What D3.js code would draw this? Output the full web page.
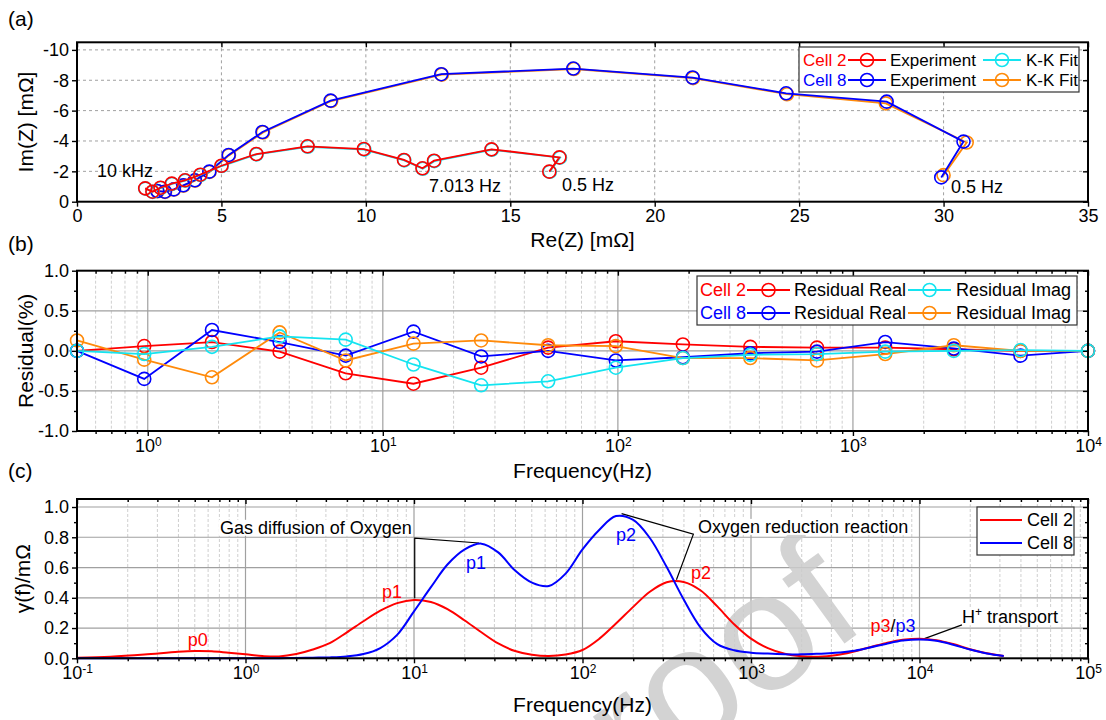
<!DOCTYPE html>
<html>
<head>
<meta charset="utf-8">
<script src="https://cdn.jsdelivr.net/npm/d3@7"></script>
<style>
  body { margin: 0; background: #fff; }
  svg { font-family: Arial, "Liberation Sans", Helvetica, sans-serif; }
</style>
</head>
<body>
<svg id="chart"></svg>
<script>
const width = 1106
const height = 720
const FONT = 'Arial, "Liberation Sans", Helvetica, sans-serif'
const red = '#ff0000'
const blue = '#0000ff'
const cyan = '#14e4f0'
const orange = '#ff8a0a'

// ---- (a) Nyquist plot, points from 10 kHz down to 0.5 Hz
const cell2ReExp = [2.36, 2.61, 2.89, 3.28, 3.74, 4.27, 5.0, 6.21, 7.98, 9.93, 11.32, 11.96, 12.36, 14.35, 16.7, 16.35]
const cell2ImExp = [-0.88, -0.66, -0.92, -1.19, -1.41, -1.78, -2.37, -3.14, -3.65, -3.47, -2.75, -2.2, -2.7, -3.45, -2.92, -1.98]
const cell2ReFit = [2.37, 2.62, 2.9, 3.29, 3.75, 4.28, 5.01, 6.22, 7.99, 9.95, 11.33, 11.97, 12.37, 14.36, 16.72, 16.37]
const cell2ImFit = [-0.86, -0.65, -0.9, -1.17, -1.39, -1.76, -2.35, -3.12, -3.62, -3.43, -2.72, -2.17, -2.67, -3.42, -2.9, -1.97]
const cell8ReExp = [2.78, 3.04, 3.35, 3.68, 4.08, 4.58, 5.25, 6.42, 8.78, 12.61, 17.18, 21.31, 24.55, 28.03, 30.69, 29.92]
const cell8ImExp = [-0.7, -0.66, -0.81, -1.08, -1.41, -1.98, -3.08, -4.59, -6.66, -8.4, -8.77, -8.18, -7.14, -6.59, -3.96, -1.6]
const cell8ReFit = [2.79, 3.05, 3.36, 3.69, 4.09, 4.59, 5.26, 6.44, 8.8, 12.63, 17.2, 21.33, 24.58, 28.0, 30.8, 30.0]
const cell8ImFit = [-0.69, -0.65, -0.8, -1.06, -1.39, -1.96, -3.05, -4.56, -6.63, -8.37, -8.74, -8.14, -7.08, -6.48, -3.9, -1.75]
const aXTicks = [0, 5, 10, 15, 20, 25, 30, 35]
const aYTicks = [0, -2, -4, -6, -8, -10]

// ---- (b) K-K residuals
const resFreq = [0.5, 0.966, 1.876, 3.64, 6.95, 13.5, 26.2, 50.5, 98, 189, 366, 703, 1372, 2685, 5163, 10000]
const res2Real = [0.0, 0.06, 0.11, -0.01, -0.28, -0.41, -0.21, 0.04, 0.12, 0.08, 0.05, 0.04, 0.04, 0.02, 0.0, 0.0]
const res2Imag = [0.0, -0.04, 0.05, 0.18, 0.14, -0.17, -0.43, -0.38, -0.21, -0.09, -0.05, -0.04, -0.01, 0.0, 0.01, 0.0]
const res8Real = [0.0, -0.35, 0.26, 0.11, -0.06, 0.24, -0.07, 0.0, -0.12, -0.08, -0.03, -0.01, 0.11, 0.03, -0.06, 0.0]
const res8Imag = [0.13, -0.11, -0.33, 0.23, -0.12, 0.09, 0.13, 0.07, 0.06, -0.09, -0.09, -0.12, -0.04, 0.07, 0.0, 0.0]
const bYTicks = [-1, -0.5, 0, 0.5, 1]
const bDecades = [1, 10, 100, 1000, 10000]

// ---- (c) DRT
const drtFreq = [0.1, 0.158, 0.251, 0.398, 0.501, 0.631, 0.794, 1, 1.26, 1.58, 2.0, 2.51, 3.16, 3.98, 5.01, 6.31, 7.94, 10,
  12.6, 15.8, 20.0, 25.1, 31.6, 39.8, 50.1, 63.1, 79.4, 100, 126, 158, 200, 251, 316, 398, 501, 631, 794, 1000,
  1259, 1585, 1995, 2512, 3162, 3981, 5012, 6310, 7943, 10000, 12589, 15849, 19953, 25119, 31623]
const drtCell2 = [0.004, 0.011, 0.025, 0.043, 0.048, 0.046, 0.036, 0.026, 0.015, 0.012, 0.028, 0.058, 0.1, 0.17, 0.245, 0.315, 0.365, 0.386,
  0.372, 0.325, 0.25, 0.172, 0.098, 0.048, 0.023, 0.015, 0.025, 0.055, 0.13, 0.23, 0.34, 0.44, 0.503, 0.505, 0.45, 0.343, 0.225, 0.13,
  0.067, 0.03, 0.014, 0.011, 0.02, 0.042, 0.072, 0.1, 0.122, 0.13, 0.12, 0.094, 0.06, 0.033, 0.015]
const drtCell8 = [0, 0, 0, 0, 0, 0, 0, 0, 0.001, 0.001, 0.002, 0.004, 0.006, 0.012, 0.028, 0.068, 0.155, 0.31,
  0.47, 0.62, 0.72, 0.758, 0.7, 0.58, 0.5, 0.478, 0.56, 0.72, 0.85, 0.94, 0.915, 0.795, 0.603, 0.39, 0.205, 0.094, 0.053, 0.037,
  0.031, 0.027, 0.026, 0.03, 0.036, 0.048, 0.07, 0.095, 0.117, 0.125, 0.116, 0.09, 0.058, 0.032, 0.015]
const cYTicks = [0, 0.2, 0.4, 0.6, 0.8, 1.0]
const cDecades = [0.1, 1, 10, 100, 1000, 10000, 100000]

const left = 77
const right = 1088

const svg = d3.select('#chart').attr('width', width).attr('height', height)

function minorLog(domain) {
  const out = []
  for (let e = -2; e <= 5; e++) {
    for (let k = 2; k <= 9; k++) {
      const v = k * Math.pow(10, e)
      if (v > domain[0] * 1.0001 && v < domain[1] * 0.9999) out.push(v)
    }
  }
  return out
}

function styleAxis(g, size) {
  g.attr('font-family', FONT).attr('font-size', size || 18)
  g.select('.domain').remove()
  g.selectAll('line').attr('stroke', '#000').attr('stroke-width', 1.4)
  g.selectAll('text').attr('fill', '#000')
}

function supLabels(g) {
  g.selectAll('.tick text').each(function (d) {
    const t = d3.select(this)
    t.text(null)
    t.append('tspan').text('10')
    t.append('tspan').attr('dy', '-0.5em').attr('font-size', 12).text(Math.round(Math.log10(d)))
  })
}

function ticksAround(x, y, top, bottom, xMajor, yMajor, xMinor, yMinor, fmtX, fmtY) {
  const gx = svg.append('g').attr('transform', `translate(0,${bottom})`)
    .call(d3.axisBottom(x).tickValues(xMajor).tickSize(5).tickPadding(3).tickFormat(fmtX))
  styleAxis(gx)
  const gy = svg.append('g').attr('transform', `translate(${left},0)`)
    .call(d3.axisLeft(y).tickValues(yMajor).tickSize(5).tickPadding(3).tickFormat(fmtY))
  styleAxis(gy)
  const gt = svg.append('g').attr('transform', `translate(0,${top})`)
    .call(d3.axisTop(x).tickValues(xMajor).tickSize(-5).tickFormat(''))
  styleAxis(gt)
  const gr = svg.append('g').attr('transform', `translate(${right},0)`)
    .call(d3.axisRight(y).tickValues(yMajor).tickSize(-5).tickFormat(''))
  styleAxis(gr)
  if (xMinor) {
    styleAxis(svg.append('g').attr('transform', `translate(0,${bottom})`)
      .call(d3.axisBottom(x).tickValues(xMinor).tickSize(3).tickFormat('')))
    styleAxis(svg.append('g').attr('transform', `translate(0,${top})`)
      .call(d3.axisTop(x).tickValues(xMinor).tickSize(-3).tickFormat('')))
  }
  if (yMinor) {
    styleAxis(svg.append('g').attr('transform', `translate(${left},0)`)
      .call(d3.axisLeft(y).tickValues(yMinor).tickSize(3).tickFormat('')))
    styleAxis(svg.append('g').attr('transform', `translate(${right},0)`)
      .call(d3.axisRight(y).tickValues(yMinor).tickSize(-3).tickFormat('')))
  }
  return gx
}

function frame(top, bottom) {
  svg.append('rect').attr('x', left).attr('y', top).attr('width', right - left).attr('height', bottom - top)
    .attr('fill', 'none').attr('stroke', '#000').attr('stroke-width', 2)
}

function text(x, y, str, opts) {
  const o = opts || {}
  return svg.append('text').attr('x', x).attr('y', y).text(str)
    .attr('font-size', o.size || 18).attr('fill', o.color || '#000')
    .attr('text-anchor', o.anchor || 'start').attr('font-family', FONT)
}

function series(g, xs, ys, x, y, color) {
  const pts = d3.zip(xs, ys)
  g.append('path').datum(pts)
    .attr('d', d3.line().x(d => x(d[0])).y(d => y(d[1])))
    .attr('fill', 'none').attr('stroke', color).attr('stroke-width', 1.8)
  g.selectAll(null).data(pts).join('circle')
    .attr('cx', d => x(d[0])).attr('cy', d => y(d[1])).attr('r', 6.5)
    .attr('fill', 'none').attr('stroke', color).attr('stroke-width', 1.6)
}

function legendMark(x1, x2, y, color, marker) {
  svg.append('line').attr('x1', x1).attr('x2', x2).attr('y1', y).attr('y2', y)
    .attr('stroke', color).attr('stroke-width', 1.8)
  if (marker) {
    svg.append('circle').attr('cx', (x1 + x2) / 2).attr('cy', y).attr('r', 6.5)
      .attr('fill', 'none').attr('stroke', color).attr('stroke-width', 1.6)
  }
}

function legendBox(x, y, w, h) {
  svg.append('rect').attr('x', x).attr('y', y).attr('width', w).attr('height', h)
    .attr('fill', '#fff').attr('stroke', '#333').attr('stroke-width', 1.2)
}

// ================= (a) =================
const aTop = 42.3
const aBottom = 201.7
const xA = d3.scaleLinear().domain([0, 35]).range([left, right])
const yA = d3.scaleLinear().domain([0, -10.5]).range([aBottom, aTop])

const gridA = svg.append('g').attr('stroke', '#a0a0a0').attr('stroke-dasharray', '3,3').attr('stroke-width', 1)
gridA.selectAll(null).data(aXTicks.slice(1, -1)).join('line')
  .attr('x1', d => xA(d)).attr('x2', d => xA(d)).attr('y1', aTop).attr('y2', aBottom)
gridA.selectAll(null).data(aYTicks.slice(1)).join('line')
  .attr('y1', d => yA(d)).attr('y2', d => yA(d)).attr('x1', left).attr('x2', right)

const gA = svg.append('g')
series(gA, cell8ReFit, cell8ImFit, xA, yA, orange)
series(gA, cell8ReExp, cell8ImExp, xA, yA, blue)
series(gA, cell2ReFit, cell2ImFit, xA, yA, cyan)
series(gA, cell2ReExp, cell2ImExp, xA, yA, red)

ticksAround(xA, yA, aTop, aBottom, aXTicks, aYTicks, null, null, d => String(d), d => String(d))
frame(aTop, aBottom)

text(97, 177, '10 kHz')
text(429, 192, '7.013 Hz')
text(562, 191, '0.5 Hz')
text(951, 193, '0.5 Hz')

legendBox(799, 47, 280, 45)
text(803, 66, 'Cell 2', { color: red, size: 17 })
legendMark(848, 886, 60, red, true)
text(890, 66, 'Experiment', { size: 17 })
legendMark(983, 1021, 60, cyan, true)
text(1026, 66, 'K-K Fit', { size: 17 })
text(803, 86, 'Cell 8', { color: blue, size: 17 })
legendMark(848, 886, 80, blue, true)
text(890, 86, 'Experiment', { size: 17 })
legendMark(983, 1021, 80, orange, true)
text(1026, 86, 'K-K Fit', { size: 17 })

text(8, 26, '(a)', { size: 21 })
text((left + right) / 2, 247, 'Re(Z) [mΩ]', { size: 21, anchor: 'middle' })
text(0, 0, 'Im(Z) [mΩ]', { size: 21, anchor: 'middle' })
  .attr('transform', `translate(33,${(aTop + aBottom) / 2}) rotate(-90)`)

// ================= (b) =================
const bTop = 270.7
const bBottom = 431
const xB = d3.scaleLog().domain([0.5, 10000]).range([left, right])
const yB = d3.scaleLinear().domain([-1, 1]).range([bBottom, bTop])
const bMinor = minorLog([0.5, 10000])

const gridB = svg.append('g')
gridB.selectAll(null).data(bMinor).join('line')
  .attr('x1', d => xB(d)).attr('x2', d => xB(d)).attr('y1', bTop).attr('y2', bBottom)
  .attr('stroke', '#cfcfcf').attr('stroke-dasharray', '3,2').attr('stroke-width', 1)
gridB.selectAll(null).data(bDecades.slice(0, -1)).join('line')
  .attr('x1', d => xB(d)).attr('x2', d => xB(d)).attr('y1', bTop).attr('y2', bBottom)
  .attr('stroke', '#a0a0a0').attr('stroke-width', 1.2)
gridB.selectAll(null).data([-0.5, 0, 0.5]).join('line')
  .attr('y1', d => yB(d)).attr('y2', d => yB(d)).attr('x1', left).attr('x2', right)
  .attr('stroke', '#a0a0a0').attr('stroke-width', 1.2)

const gB = svg.append('g')
series(gB, resFreq, res2Real, xB, yB, red)
series(gB, resFreq, res8Real, xB, yB, blue)
series(gB, resFreq, res8Imag, xB, yB, orange)
series(gB, resFreq, res2Imag, xB, yB, cyan)

const gxB = ticksAround(xB, yB, bTop, bBottom, bDecades, bYTicks, bMinor, [-0.75, -0.25, 0.25, 0.75],
  d => d, d => d.toFixed(1))
supLabels(gxB)
frame(bTop, bBottom)

legendBox(697, 276, 380, 49)
text(700, 296, 'Cell 2', { color: red })
legendMark(747, 790, 290, red, true)
text(794, 296, 'Residual Real')
legendMark(908, 951, 290, cyan, true)
text(956, 296, 'Residual Imag')
text(700, 319, 'Cell 8', { color: blue })
legendMark(747, 790, 313, blue, true)
text(794, 319, 'Residual Real')
legendMark(908, 951, 313, orange, true)
text(956, 319, 'Residual Imag')

text(8, 251, '(b)', { size: 21 })
text((left + right) / 2, 478, 'Frequency(Hz)', { size: 21, anchor: 'middle' })
text(0, 0, 'Residual(%)', { size: 21, anchor: 'middle' })
  .attr('transform', `translate(33,${(bTop + bBottom) / 2}) rotate(-90)`)

// ================= (c) =================
const cTop = 499
const cBottom = 658.3
const xC = d3.scaleLog().domain([0.1, 100000]).range([left, right])
const yC = d3.scaleLinear().domain([0, 1.053]).range([cBottom, cTop])
const cMinor = minorLog([0.1, 100000])

const gridC = svg.append('g')
gridC.selectAll(null).data(cMinor).join('line')
  .attr('x1', d => xC(d)).attr('x2', d => xC(d)).attr('y1', cTop).attr('y2', cBottom)
  .attr('stroke', '#cfcfcf').attr('stroke-dasharray', '3,2').attr('stroke-width', 1)
gridC.selectAll(null).data(cDecades.slice(1, -1)).join('line')
  .attr('x1', d => xC(d)).attr('x2', d => xC(d)).attr('y1', cTop).attr('y2', cBottom)
  .attr('stroke', '#a0a0a0').attr('stroke-width', 1.2)
gridC.selectAll(null).data(cYTicks.slice(1)).join('line')
  .attr('y1', d => yC(d)).attr('y2', d => yC(d)).attr('x1', left).attr('x2', right)
  .attr('stroke', '#a0a0a0').attr('stroke-width', 1.2)

// watermark
svg.append('text').attr('transform', 'translate(636,795) rotate(-36)')
  .attr('font-family', FONT).attr('font-size', 168).attr('fill', '#cccccc').attr('opacity', 0.85)
  .text('roof')

// annotation texts with white backing
function boxedText(x, y, anchor) {
  const g = svg.append('g')
  const bg = g.append('rect').attr('fill', '#fff')
  const t = g.append('text').attr('x', x).attr('y', y).attr('font-family', FONT).attr('font-size', 18)
    .attr('text-anchor', anchor || 'start')
  return { g, bg, t }
}
const gas = boxedText(xC(9.7), yC(0.823), 'end')
gas.t.text('Gas diffusion of Oxygen')
const orr = boxedText(xC(485), yC(0.829), 'start')
orr.t.text('Oxygen reduction reaction')
const hpl = boxedText(xC(17860), yC(0.232), 'start')
hpl.t.append('tspan').text('H')
hpl.t.append('tspan').attr('dy', -7).attr('font-size', 12).text('+')
hpl.t.append('tspan').attr('dy', 7).text(' transport')
;[gas, orr, hpl].forEach(o => {
  const b = o.t.node().getBBox()
  o.bg.attr('x', b.x - 1).attr('y', b.y + 2).attr('width', b.width + 2).attr('height', b.height - 4)
})

const leader = d3.line().x(d => xC(d[0])).y(d => yC(d[1]))
const leaders = [
  [[10.1, 0.397], [10.1, 0.795], [24.3, 0.762]],
  [[170.6, 0.956], [455, 0.821], [361, 0.519]],
  [[10500, 0.127], [17860, 0.221]]
]
svg.append('g').selectAll('path').data(leaders).join('path')
  .attr('d', leader).attr('fill', 'none').attr('stroke', '#000').attr('stroke-width', 1.2)

const drtLine = d3.line().x(d => xC(d[0])).y(d => yC(d[1])).curve(d3.curveCatmullRom.alpha(0.5))
svg.append('path').datum(d3.zip(drtFreq, drtCell2)).attr('d', drtLine)
  .attr('fill', 'none').attr('stroke', red).attr('stroke-width', 2)
svg.append('path').datum(d3.zip(drtFreq, drtCell8)).attr('d', drtLine)
  .attr('fill', 'none').attr('stroke', blue).attr('stroke-width', 2)

const pLab = (f, v, s, c) => text(xC(f), yC(v), s, { color: c, anchor: 'middle' }).attr('dy', '0.35em')
pLab(0.52, 0.121, 'p0', red)
pLab(7.4, 0.438, 'p1', red)
pLab(23.3, 0.63, 'p1', blue)
pLab(181, 0.815, 'p2', blue)
pLab(505, 0.564, 'p2', red)
const p3 = text(xC(6970), yC(0.213), '', { anchor: 'middle' }).attr('dy', '0.35em')
p3.append('tspan').attr('fill', red).text('p3')
p3.append('tspan').attr('fill', '#000').text('/')
p3.append('tspan').attr('fill', blue).text('p3')

const gxC = ticksAround(xC, yC, cTop, cBottom, cDecades, cYTicks, cMinor,
  [0.1, 0.3, 0.5, 0.7, 0.9], d => d, d => d.toFixed(1))
supLabels(gxC)
frame(cTop, cBottom)

legendBox(977, 507, 97, 48)
legendMark(980, 1022, 520, red, false)
text(1027, 526, 'Cell 2')
legendMark(980, 1022, 543, blue, false)
text(1027, 549, 'Cell 8')

text(8, 478, '(c)', { size: 21 })
text((left + right) / 2, 712, 'Frequency(Hz)', { size: 21, anchor: 'middle' })
text(0, 0, 'γ(f)/mΩ', { size: 21, anchor: 'middle' })
  .attr('transform', `translate(30,${(cTop + cBottom) / 2}) rotate(-90)`)
</script>
</body>
</html>
